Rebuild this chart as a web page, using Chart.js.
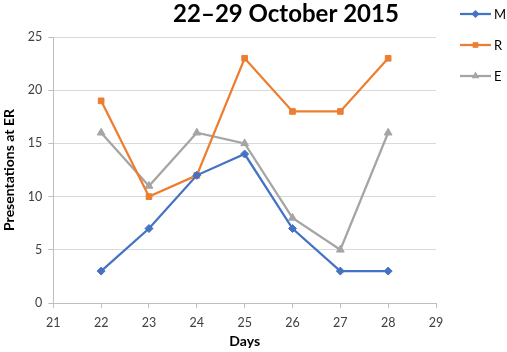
<!DOCTYPE html>
<html><head><meta charset="utf-8">
<script src="https://cdn.jsdelivr.net/npm/chart.js@4/dist/chart.umd.min.js"></script>
<style>html,body{margin:0;padding:0;background:#fff}#wrap{width:507px;height:352px;position:relative}</style>
</head><body><div id="wrap"><canvas id="c" width="507" height="352"></canvas></div>
<script>
const days = [22, 23, 24, 25, 26, 27, 28];
const seriesM = [3, 7, 12, 14, 7, 3, 3];
const seriesR = [19, 10, 12, 23, 18, 18, 23];
const seriesE = [16, 11, 16, 15, 8, 5, 16];
const seriesNames = ['M', 'R', 'E'];
const chartTitle = '22\u201329 October 2015';
const xTitle = 'Days';
const yTitle = 'Presentations at ER';

const FONT = 'Lato, "Open Sans", sans-serif';
const colors = ['#4472C4', '#ED7D31', '#A5A5A5'];
const styles = ['rectRot', 'rect', 'triangle'];
const radii = [4, 4, 4.5];
const vals = [seriesM, seriesR, seriesE];

const datasets = seriesNames.map((n, i) => ({
  label: n,
  data: days.map((d, j) => ({x: d, y: vals[i][j]})),
  borderColor: colors[i], backgroundColor: colors[i],
  borderWidth: 2.25, pointStyle: styles[i], pointRadius: radii[i],
  pointBorderWidth: 1, tension: 0
}));

const deco = {
  id: 'deco',
  afterDraw(chart) {
    const ctx = chart.ctx;
    const xs = chart.scales.x;
    ctx.save();
    ctx.fillStyle = '#000';
    ctx.font = 'bold 24px ' + FONT;
    ctx.textAlign = 'center'; ctx.textBaseline = 'middle';
    ctx.fillText(chartTitle, 286, 14);
    ctx.font = 'bold 14px ' + FONT;
    ctx.fillText(xTitle, (xs.left + xs.right) / 2, 341);
    chart.data.datasets.forEach((ds, i) => {
      const y = 14 + i * 31;
      ctx.strokeStyle = ds.borderColor; ctx.lineWidth = 2.25;
      ctx.beginPath(); ctx.moveTo(460, y); ctx.lineTo(491, y); ctx.stroke();
      ctx.fillStyle = ds.backgroundColor;
      Chart.helpers.drawPoint(ctx, {pointStyle: ds.pointStyle, radius: ds.pointRadius, rotation: 0, borderWidth: 0}, 475.5, y);
      ctx.fillStyle = '#000';
      ctx.font = '13px ' + FONT; ctx.textAlign = 'left';
      ctx.fillText(ds.label, 494, y + 1);
    });
    ctx.restore();
  }
};

new Chart(document.getElementById('c'), {
  type: 'line',
  data: {datasets},
  options: {
    responsive: false, animation: false,
    layout: {padding: {left: 1, right: 71, top: 37, bottom: 15}},
    plugins: {legend: {display: false}, title: {display: false}, tooltip: {enabled: false}},
    scales: {
      x: {
        type: 'linear', min: 21, max: 29,
        ticks: {stepSize: 1, color: '#404040', font: {family: FONT, size: 12.5}, padding: 7},
        grid: {drawOnChartArea: false, color: '#BFBFBF', tickLength: 5},
        border: {color: '#BFBFBF'},
        title: {display: false}
      },
      y: {
        min: 0, max: 25,
        ticks: {stepSize: 5, color: '#404040', font: {family: FONT, size: 12.5}, padding: 6},
        grid: {color: '#D9D9D9', tickLength: 5, tickColor: '#BFBFBF'},
        border: {color: '#BFBFBF'},
        title: {display: true, text: yTitle, color: '#000', font: {family: FONT, size: 14, weight: 'bold'}, padding: {top: 0, bottom: 4}}
      }
    }
  },
  plugins: [deco]
});
</script></body></html>
